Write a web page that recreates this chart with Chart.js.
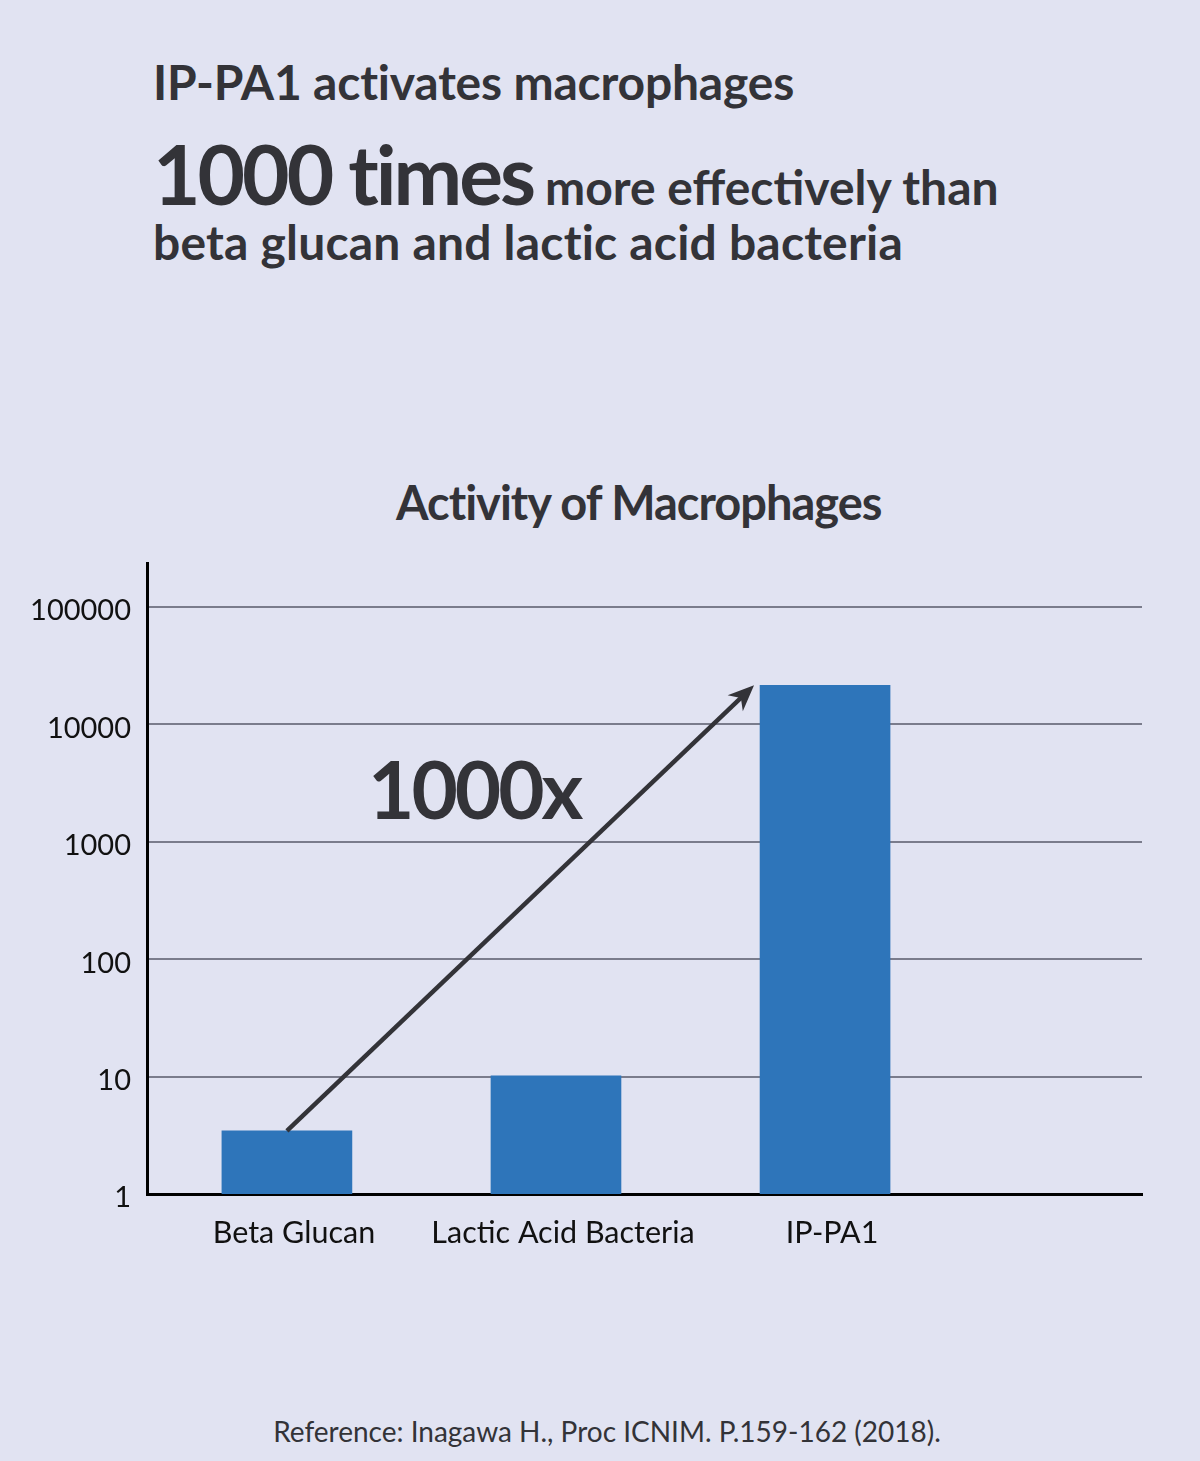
<!DOCTYPE html>
<html lang="en">
<head>
  <meta charset="UTF-8">
  <title>Activity of Macrophages</title>
  <script src="https://cdn.jsdelivr.net/npm/chart.js"></script>
  <style>
    html, body { margin: 0; padding: 0; }
    body { width: 1200px; height: 1461px; background: #e1e3f2; position: relative; overflow: hidden;
           font-family: Lato, "Open Sans", sans-serif; color: #333338; }
    .txt { position: absolute; white-space: nowrap; font-weight: bold; }
    #l1 { left: 153px; top: 53px; font-size: 48px; letter-spacing: -0.2px; }
    #l2 { left: 153px; top: 124px; font-size: 48px; letter-spacing: 0px; }
    #l2 .big { font-size: 82px; letter-spacing: -3px; margin-right: 12px; }
    #l3 { left: 153px; top: 213px; font-size: 48px; letter-spacing: 0.2px; }
    #ctitle { left: 396px; top: 474px; font-size: 47px; letter-spacing: -1px; }
    #ref { left: 0; width: 1214px; text-align: center; top: 1414px; font-size: 28px; font-weight: normal; }
    #wrap { position: absolute; left: 0; top: 0; width: 1200px; height: 1461px; }
  </style>
</head>
<body>
  <div class="txt" id="l1">IP-PA1 activates macrophages</div>
  <div class="txt" id="l2"><span class="big">1000 times</span>more effectively than</div>
  <div class="txt" id="l3">beta glucan and lactic acid bacteria</div>
  <div class="txt" id="ctitle">Activity of Macrophages</div>
  <div class="txt" id="ref">Reference: Inagawa H., Proc ICNIM. P.159-162 (2018).</div>
  <div id="wrap"><canvas id="macroChart"></canvas></div>

  <script>
    // values
    const categories = ['Beta Glucan', 'Lactic Acid Bacteria', 'IP-PA1'];
    const activity = [3.45, 10.15, 21500];
    const yTicks = [1, 10, 100, 1000, 10000, 100000];
    const foldLabel = '1000x';

    // arrow from beta glucan bar top to just left of the IP-PA1 bar top
    const arrowPlugin = {
      id: 'arrow',
      afterDatasetsDraw(chart) {
        const ctx = chart.ctx;
        const xs = chart.scales.x, ys = chart.scales.y;
        const x0 = xs.getPixelForValue(0), y0 = ys.getPixelForValue(activity[0]);
        const x1 = xs.getPixelForValue(2) - 71, y1 = ys.getPixelForValue(activity[2]);
        const ang = Math.atan2(y1 - y0, x1 - x0);
        const hl = 26, hw = 11;
        ctx.save();
        ctx.strokeStyle = '#333338';
        ctx.fillStyle = '#333338';
        ctx.lineWidth = 4.5;
        ctx.beginPath();
        ctx.moveTo(x0, y0);
        ctx.lineTo(x1 - Math.cos(ang) * 16, y1 - Math.sin(ang) * 16);
        ctx.stroke();
        // notched head
        ctx.translate(x1, y1);
        ctx.rotate(ang);
        ctx.beginPath();
        ctx.moveTo(0, 0);
        ctx.lineTo(-hl, -hw);
        ctx.lineTo(-hl * 0.7, 0);
        ctx.lineTo(-hl, hw);
        ctx.closePath();
        ctx.fill();
        ctx.restore();

        ctx.save();
        ctx.fillStyle = '#333338';
        ctx.font = 'bold 80px Lato, sans-serif';
        ctx.letterSpacing = '-3px';
        ctx.textBaseline = 'alphabetic';
        ctx.fillText(foldLabel, 368, 819);
        ctx.restore();
      }
    };

    const ctx = document.getElementById('macroChart').getContext('2d');

    new Chart(ctx, {
      type: 'bar',
      data: {
        datasets: [{
          data: activity.map((v, i) => ({ x: i, y: v })),
          backgroundColor: '#2e75ba',
          barThickness: 130,
          borderWidth: 0
        }]
      },
      options: {
        responsive: true,
        maintainAspectRatio: false,
        animation: false,
        layout: { padding: { top: 563, right: 58, left: 0, bottom: 0 } },
        plugins: { legend: { display: false }, tooltip: { enabled: false } },
        scales: {
          x: {
            type: 'linear',
            offset: false,
            min: -0.52,
            max: 3.178,
            grid: { display: false, drawTicks: false, offset: false },
            border: { display: true, color: '#000', width: 3 },
            afterBuildTicks: (s) => { s.ticks = categories.map((c, i) => ({ value: i })); },
            afterFit: (s) => { s.height = 267; },
            ticks: {
              autoSkip: false,
              maxRotation: 0,
              padding: 21,
              labelOffset: 7,
              color: '#111',
              font: { family: 'Lato', size: 30.5 },
              callback: (v) => categories[v]
            }
          },
          y: {
            type: 'logarithmic',
            min: 1,
            max: 237000,
            grid: { color: '#7a7c8c', lineWidth: 2, drawTicks: false },
            border: { display: true, color: '#000', width: 3 },
            afterBuildTicks: (s) => { s.ticks = yTicks.map(v => ({ value: v })); },
            afterFit: (s) => { s.width = 147; },
            ticks: {
              padding: 16,
              labelOffset: 4,
              color: '#111',
              font: { family: 'Lato', size: 29 },
              callback: (v) => String(v)
            }
          }
        }
      },
      plugins: [arrowPlugin]
    });
  </script>
</body>
</html>
